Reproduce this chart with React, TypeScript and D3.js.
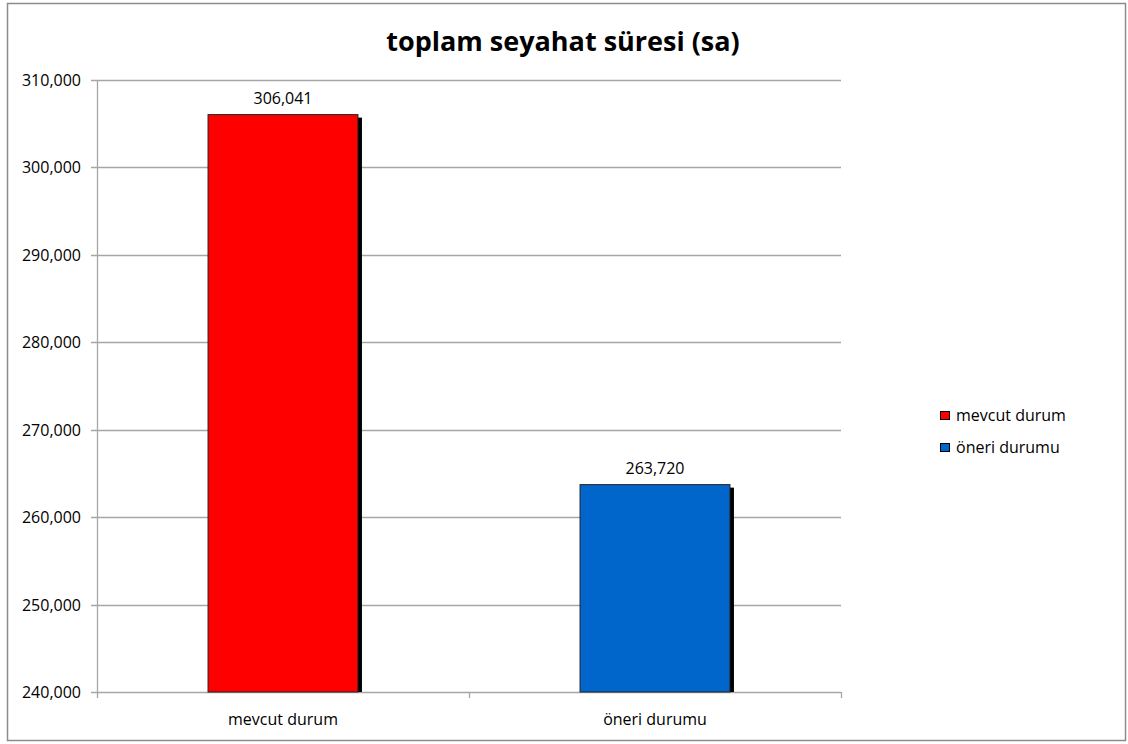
import React from "react";
import * as d3 from "d3";

const categories = ["mevcut durum", "öneri durumu"];
const values = [306041, 263720];
const colors = ["#FF0000", "#0066CC"];
const yTicks = [240000, 250000, 260000, 270000, 280000, 290000, 300000, 310000];
const title = "toplam seyahat süresi (sa)";

const W = 1128, H = 744;
const plot = { left: 97, right: 841, top: 80, bottom: 692 };
const font = "'Open Sans', sans-serif";

export default function App() {
  const x = d3.scaleBand<string>().domain(categories).range([plot.left, plot.right]).paddingInner(0.597).paddingOuter(0.2985);
  const y = d3.scaleLinear().domain([240000, 310000]).range([plot.bottom, plot.top]);
  const fmt = d3.format(",");
  const bandStep = (plot.right - plot.left) / categories.length;
  const xTickPos = d3.range(categories.length + 1).map((i) => plot.left + i * bandStep);
  return (
    <svg width={W} height={H} style={{ position: "absolute", left: 0, top: 0, fontFamily: font }}>
      <rect x={0} y={0} width={W} height={H} fill="#fff" />
      <rect x={7.5} y={3.5} width={1118} height={737} fill="none" stroke="#8c8c8c" strokeWidth={1.5} />
      <text x={563} y={51} textAnchor="middle" fontSize={27} fontWeight="bold" fill="#000">{title}</text>
      {yTicks.map((t) => (
        <g key={t}>
          <line x1={plot.left - 6} x2={plot.right} y1={Math.round(y(t)) + 0.5} y2={Math.round(y(t)) + 0.5} stroke="#a6a6a6" strokeWidth={1.3} />
          <text x={81} y={y(t) + 6} textAnchor="end" fontSize={16} fill="#000">{fmt(t)}</text>
        </g>
      ))}
      <line x1={plot.left + 0.5} x2={plot.left + 0.5} y1={plot.top} y2={plot.bottom} stroke="#a6a6a6" strokeWidth={1.3} />
      {xTickPos.map((p, i) => (
        <line key={i} x1={p + 0.5} x2={p + 0.5} y1={plot.bottom} y2={plot.bottom + 6} stroke="#a6a6a6" strokeWidth={1.3} />
      ))}
      {categories.map((c, i) => {
        const bx = x(c)!;
        const bw = x.bandwidth();
        const by = y(values[i]);
        return (
          <g key={c}>
            <rect x={bx + 4} y={by + 3} width={bw} height={plot.bottom - by - 3} fill="#000" />
            <rect x={bx} y={by} width={bw} height={plot.bottom - by} fill={colors[i]} stroke="#222" strokeWidth={1} />
            <text x={bx + bw / 2} y={by - 11} textAnchor="middle" fontSize={16} fill="#000">{fmt(values[i])}</text>
            <text x={bx + bw / 2} y={725} textAnchor="middle" fontSize={16} fill="#000">{c}</text>
          </g>
        );
      })}
      {categories.map((c, i) => (
        <g key={"lg" + c} transform={`translate(940, ${411 + i * 32})`}>
          <rect x={0.5} y={0.5} width={9} height={8} fill={colors[i]} stroke="#000" strokeWidth={1} />
          <text x={16} y={10} fontSize={16} fill="#000">{c}</text>
        </g>
      ))}
    </svg>
  );
}
